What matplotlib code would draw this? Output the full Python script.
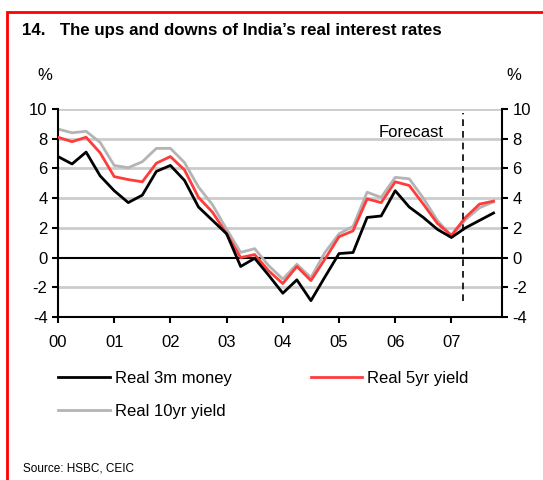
import numpy as np
import matplotlib.pyplot as plt
from matplotlib.patches import Rectangle

plt.rcParams['font.family'] = ['Liberation Sans', 'DejaVu Sans']
plt.rcParams['axes.unicode_minus'] = False

# quarterly observations, 2000Q1 .. 2007Q4 (x in years since 2000)
quarters = np.arange(32) * 0.25
real_3m = [6.8, 6.3, 7.1, 5.5, 4.5, 3.7, 4.2, 5.8, 6.2, 5.2, 3.4, 2.5,
           1.6, -0.6, -0.05, -1.2, -2.4, -1.5, -2.9, -1.3, 0.27, 0.34, 2.7, 2.8,
           4.5, 3.4, 2.7, 1.9, 1.35, 2.0, 2.5, 3.0]
real_5yr = [8.1, 7.8, 8.1, 7.05, 5.45, 5.25, 5.1, 6.35, 6.8, 5.9, 4.05, 3.05,
            1.6, 0.0, 0.2, -0.9, -1.75, -0.6, -1.55, -0.1, 1.4, 1.8, 3.95, 3.7,
            5.1, 4.85, 3.6, 2.3, 1.5, 2.7, 3.6, 3.8]
real_10yr = [8.65, 8.4, 8.5, 7.75, 6.2, 6.05, 6.45, 7.35, 7.35, 6.4, 4.75, 3.55,
             1.9, 0.35, 0.6, -0.55, -1.45, -0.45, -1.35, 0.35, 1.6, 2.1, 4.4, 4.05,
             5.4, 5.3, 4.0, 2.5, 1.45, 2.55, 3.35, 3.75]
year_labels = ['00', '01', '02', '03', '04', '05', '06', '07']
forecast_start = 7.2

fig = plt.figure(figsize=(5.43, 4.8), dpi=100)
ax = fig.add_axes([0.1068, 0.3396, 0.8177, 0.4333])

for y in range(-2, 11, 2):
    if y != 0:
        ax.axhline(y, color='#cccccc', lw=2, zorder=0)
ax.axhline(0, color='black', lw=1.5, zorder=1)

ax.plot(quarters, real_10yr, color='#b4b4b4', lw=2, zorder=2, label='Real 10yr yield')
ax.plot(quarters, real_5yr, color='#ff3c3c', lw=2, zorder=3, label='Real 5yr yield')
ax.plot(quarters, real_3m, color='black', lw=2, zorder=4, label='Real 3m money')

ax.plot([forecast_start, forecast_start], [-2.9, 9.7], color='black', lw=1.2,
        ls=(0, (4, 3)), zorder=5)
ax.text(5.7, 8.4, 'Forecast', fontsize=12, va='center', ha='left')

ax.set_xlim(0, 7.9)
ax.set_ylim(-4, 10)
ax.set_xticks(range(8))
ax.set_xticklabels(year_labels)
ax.set_yticks(range(-4, 11, 2))
ax.tick_params(axis='both', direction='out', length=4, width=1.5, labelsize=12)
ax.tick_params(axis='y', right=True, labelright=True)
ax.tick_params(axis='x', pad=9)
for side in ['left', 'right', 'bottom']:
    ax.spines[side].set_linewidth(1.5)
ax.spines['top'].set_visible(False)

fig.text(0.041, 0.937, '14.   The ups and downs of India\u2019s real interest rates',
         fontsize=12.2, fontweight='bold', va='center', ha='left')
fig.text(0.083, 0.843, '%', fontsize=12, va='center', ha='center')
fig.text(0.947, 0.843, '%', fontsize=12, va='center', ha='center')

h, l = ax.get_legend_handles_labels()
order = [2, 0, 1]
fig.legend([h[i] for i in order], [l[i] for i in order], ncol=2,
           loc='upper left', bbox_to_anchor=(0.107, 0.228), frameon=False,
           borderpad=0, borderaxespad=0,
           fontsize=12, handlelength=3.1, handletextpad=0.3,
           columnspacing=4.75, labelspacing=1.1)

fig.text(0.042, 0.012, 'Source: HSBC, CEIC', fontsize=8.5, va='bottom', ha='left')

fig.patches.append(Rectangle((0.0138, -0.05), 1.2, 0.025 + 0.05 + 0.95,
                             transform=fig.transFigure, fill=False,
                             edgecolor='red', lw=2))

fig.savefig('out.png', dpi=100)
